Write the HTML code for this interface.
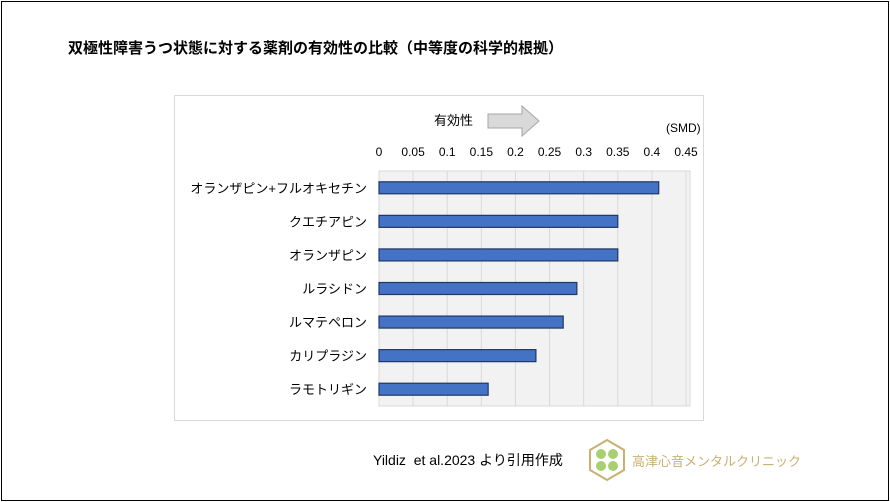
<!DOCTYPE html>
<html><head><meta charset="utf-8">
<style>
body{margin:0;background:#fff;}
#wrap{position:relative;width:890px;height:502px;overflow:hidden;font-family:"Liberation Sans","Noto Sans CJK JP",sans-serif;}
</style></head>
<body>
<div id="wrap">
<div style="position:absolute;left:1px;top:1px;width:886px;height:498px;border:1px solid #000;"></div>
<div style="position:absolute;left:68px;top:37px;font-size:15px;font-weight:bold;color:#000;">双極性障害うつ状態に対する薬剤の有効性の比較（中等度の科学的根拠）</div>
<svg id="chart" width="890" height="502" style="position:absolute;left:0;top:0;font-family:'Liberation Sans','Noto Sans CJK JP',sans-serif;">
<rect x="174.5" y="95.5" width="529" height="325" fill="#fff" stroke="#d9d9d9"/>
<text x="434" y="125" font-size="13" fill="#000">有効性</text>
<polygon points="488,114 522,114 522,106 539,121 522,136 522,128 488,128" fill="#d9d9d9" stroke="#a6a6a6"/>
<text x="666" y="132" font-size="12" fill="#000">(SMD)</text>
<g id="plot"></g>
</svg>
<div style="position:absolute;left:373px;top:450px;font-size:14px;color:#000;">Yildiz&nbsp; et al.2023 より引用作成</div>
<svg width="40" height="44" style="position:absolute;left:587px;top:438px;">
<polygon points="20,2 37,12 37,32 20,42 3,32 3,12" fill="none" stroke="#c8b071" stroke-width="2"/>
<circle cx="14" cy="16" r="5" fill="#a8d070"/><circle cx="26" cy="16" r="5" fill="#a8d070"/>
<circle cx="14" cy="28" r="5" fill="#a8d070"/><circle cx="26" cy="28" r="5" fill="#a8d070"/>
</svg>
<div style="position:absolute;left:632px;top:451px;font-size:13px;color:#c8b071;">高津心音メンタルクリニック</div>
</div>
<script>
const categories=["オランザピン+フルオキセチン","クエチアピン","オランザピン","ルラシドン","ルマテペロン","カリプラジン","ラモトリギン"];
const values=[0.41,0.35,0.35,0.29,0.27,0.23,0.16];
const ticks=[0,0.05,0.1,0.15,0.2,0.25,0.3,0.35,0.4,0.45];
const ns="http://www.w3.org/2000/svg";
const g=document.getElementById('plot');
const x0=379,x1=686,yTop=171,yBot=406,xMax=0.45;
const xs=v=>x0+(v/xMax)*(x1-x0);
const band=(yBot-yTop)/categories.length;
const ys=i=>yTop+band*(i+0.5);
function mk(t,a){const e=document.createElementNS(ns,t);for(const k in a)e.setAttribute(k,a[k]);g.appendChild(e);return e;}
const bg=mk('rect',{x:x0,y:yTop,width:x1-x0+4,height:yBot-yTop,fill:'#f2f2f2',stroke:'#d9d9d9'});


ticks.forEach(t=>{
  const l=mk('line',{x1:xs(t),x2:xs(t),y1:yTop,y2:yBot,stroke:'#d9d9d9'});
  
  
  const tx=mk('text',{x:xs(t),y:156,'font-size':12,'text-anchor':'middle',fill:'#000'});
  tx.textContent=String(t);
  
  
});
categories.forEach((c,i)=>{
  const r=mk('rect',{x:x0,y:ys(i)-6,width:xs(values[i])-x0,height:12,fill:'#4472c4',stroke:'#1f3864','stroke-width':1.2});
  
  
  const tx=mk('text',{x:367,y:ys(i)+5,'font-size':13,'text-anchor':'end',fill:'#000'});
  tx.textContent=c;
  
  
});
</script>
</body></html>
